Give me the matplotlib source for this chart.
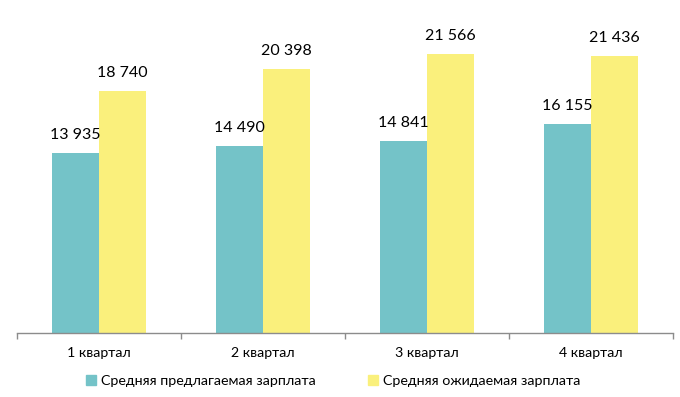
import numpy as np
import matplotlib.pyplot as plt
from matplotlib.patches import Patch

quarters = ['1 квартал', '2 квартал', '3 квартал', '4 квартал']
offered = [13935, 14490, 14841, 16155]
expected = [18740, 20398, 21566, 21436]
series_names = ['Средняя предлагаемая зарплата', 'Средняя ожидаемая зарплата']

teal = '#74C3C8'
yellow = '#FAF07C'

plt.rcParams['font.family'] = ['Lato', 'DejaVu Sans']

fig = plt.figure(figsize=(6.8, 3.97), dpi=100)
ax = fig.add_axes([0.025, 0.1612, 0.9647, 0.814])

x = np.arange(len(quarters))
w = 0.287
b1 = ax.bar(x - w / 2, offered, w, color=teal)
b2 = ax.bar(x + w / 2, expected, w, color=yellow)


def fmt(v):
    return f'{v:,}'.replace(',', ' ')


for bars, vals in ((b1, offered), (b2, expected)):
    for r, v in zip(bars, vals):
        ax.annotate(fmt(v), (r.get_x() + r.get_width() / 2, v),
                    xytext=(0, 8), textcoords='offset points',
                    ha='center', va='bottom', fontsize=11.5, color='#000000')

ax.set_xlim(-0.5, len(quarters) - 0.5)
ax.set_ylim(0, 25000)
ax.set_yticks([])
for s in ['top', 'right', 'left']:
    ax.spines[s].set_visible(False)
ax.spines['bottom'].set_color('#8C8C8C')
ax.spines['bottom'].set_linewidth(1)

# ticks at category boundaries, labels at centers
ax.set_xticks(np.arange(-0.5, len(quarters), 1.0))
ax.set_xticklabels([])
ax.tick_params(axis='x', which='major', length=4, color='#8C8C8C', width=1)
ax.set_xticks(x, minor=True)
ax.set_xticklabels(quarters, minor=True, fontsize=10.2)
ax.tick_params(axis='x', which='minor', length=0, pad=10)

handles = [Patch(color=teal), Patch(color=yellow)]
fig.legend(handles, series_names, loc='center', bbox_to_anchor=(0.49, 0.04),
           ncol=2, frameon=False, fontsize=10.3, handlelength=0.7, handleheight=0.7,
           handletextpad=0.3, columnspacing=3.7)

fig.savefig('out.png', dpi=100)
